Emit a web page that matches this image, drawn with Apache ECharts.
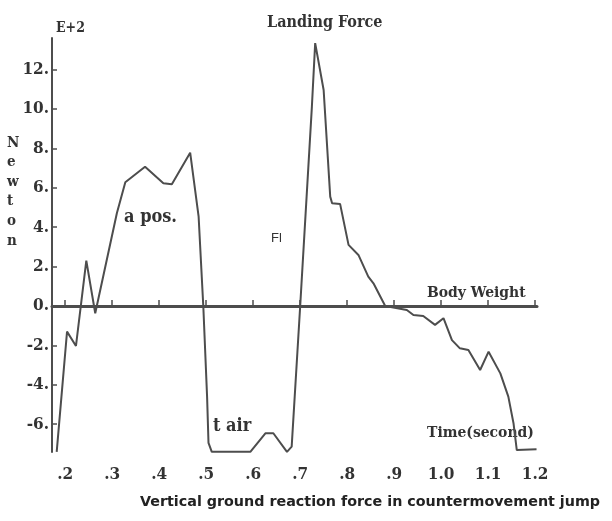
<!DOCTYPE html>
<html>
<head>
<meta charset="utf-8">
<script src="https://cdn.jsdelivr.net/npm/echarts@6/dist/echarts.min.js"></script>
<style>
  html, body { margin: 0; padding: 0; background: #fff; }
  #chart { width: 612px; height: 521px; }
</style>
</head>
<body>
<div id="chart"></div>
<script>
// time (s) and force (E+2 N, relative to body weight)
var times = [0.182, 0.204, 0.223, 0.245, 0.264, 0.310, 0.328, 0.370, 0.409, 0.427, 0.466, 0.484, 0.494, 0.502, 0.505, 0.512,
  0.594, 0.626, 0.643, 0.672, 0.682, 0.700, 0.725, 0.732, 0.750, 0.764, 0.768, 0.785, 0.803, 0.824, 0.845, 0.856, 0.881,
  0.927, 0.941, 0.962, 0.987, 1.005, 1.023, 1.040, 1.058, 1.083, 1.101, 1.126, 1.143, 1.154, 1.161, 1.164, 1.203];
var force = [-7.40, -1.30, -2.03, 2.30, -0.37, 4.71, 6.28, 7.07, 6.23, 6.18, 7.78, 4.53, -0.04, -4.60, -6.95, -7.40,
  -7.40, -6.46, -6.46, -7.40, -7.14, -0.04, 10.12, 13.34, 10.96, 5.55, 5.21, 5.18, 3.10, 2.59, 1.49, 1.15, 0.0,
  -0.20, -0.46, -0.51, -0.96, -0.62, -1.73, -2.15, -2.23, -3.25, -2.32, -3.42, -4.60, -5.95, -7.31, -7.27, -7.27];
var xTicks = [0.2, 0.3, 0.4, 0.5, 0.6, 0.7, 0.8, 0.9, 1.0, 1.1, 1.2];
var yTicks = [-6, -4, -2, 0, 2, 4, 6, 8, 10, 12];
var bodyWeight = 0;

var oldFont = '"DejaVu Serif Condensed", "Liberation Serif", serif';
var ink = '#333';
var lineCol = '#4d4d4d';

var myChart = echarts.init(document.getElementById('chart'));

var option = {
  animation: false,
  grid: { left: 52, right: 75, top: 38, bottom: 69 },
  xAxis: {
    type: 'value',
    min: 0.172,
    max: 1.204,
    splitLine: { show: false },
    axisLine: { lineStyle: { color: lineCol, width: 3 } },
    axisTick: { inside: true, length: 6, customValues: xTicks, lineStyle: { color: lineCol, width: 1.5 } },
    axisLabel: {
      customValues: xTicks,
      margin: 14,
      color: ink,
      fontFamily: oldFont,
      fontWeight: 'bold',
      fontSize: 17,
      formatter: function (v) {
        return v < 1 ? '.' + Math.round(v * 10) : v.toFixed(1);
      }
    }
  },
  yAxis: {
    type: 'value',
    min: -7.41,
    max: 13.6,
    splitLine: { show: false },
    axisLine: { onZero: false, lineStyle: { color: lineCol, width: 2 } },
    axisTick: { inside: true, length: 5, customValues: yTicks, lineStyle: { color: lineCol, width: 1.5 } },
    axisLabel: {
      customValues: yTicks,
      margin: 3,
      color: ink,
      fontFamily: oldFont,
      fontWeight: 'bold',
      fontSize: 17,
      formatter: function (v) { return v + '.'; }
    }
  },
  series: [{
    type: 'line',
    data: times.map(function (t, i) { return [t, force[i]]; }),
    symbol: 'none',
    clip: false,
    lineStyle: { color: lineCol, width: 2 },
    markLine: {
      silent: true,
      symbol: 'none',
      label: { show: false },
      lineStyle: { color: lineCol, width: 3, type: 'solid' },
      data: [{ yAxis: bodyWeight }]
    }
  }],
  graphic: [
    { type: 'text', left: 56, top: 21, style: { text: 'E+2', font: 'bold 14px ' + oldFont, fill: ink } },
    { type: 'text', left: 7, top: 133, style: { text: 'N\ne\nw\nt\no\nn', font: 'bold 15px ' + oldFont, lineHeight: 19.6, fill: ink, align: 'center', x: 6 } },
    { type: 'text', left: 267, top: 15, style: { text: 'Landing Force', font: 'bold 16px ' + oldFont, fill: ink } },
    { type: 'text', left: 124, top: 208, style: { text: 'a pos.', font: 'bold 18px ' + oldFont, fill: ink } },
    { type: 'text', left: 271, top: 232, style: { text: 'Fl', font: '13px "Liberation Sans", Arial, sans-serif', fill: ink } },
    { type: 'text', left: 427, top: 285, style: { text: 'Body Weight', font: 'bold 15.5px ' + oldFont, fill: ink } },
    { type: 'text', left: 213, top: 417, style: { text: 't air', font: 'bold 18px ' + oldFont, fill: ink } },
    { type: 'text', left: 427, top: 425, style: { text: 'Time(second)', font: 'bold 15.5px ' + oldFont, fill: ink } },
    { type: 'text', left: 140, top: 495, style: { text: 'Vertical ground reaction force in countermovement jump', font: 'bold 14.3px "DejaVu Sans", Verdana, sans-serif', fill: '#222' } }
  ]
};

myChart.setOption(option);
</script>
</body>
</html>
